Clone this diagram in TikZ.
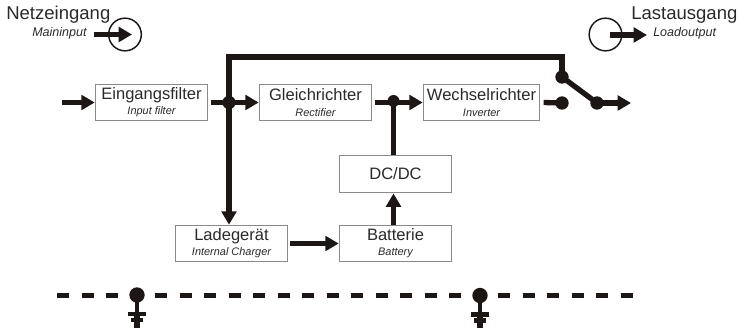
\documentclass[tikz,border=0pt]{standalone}
\usepackage{fontspec}
\setmainfont{Liberation Sans}
\usetikzlibrary{arrows.meta}
\definecolor{ink}{HTML}{1C1614}
\definecolor{txt}{HTML}{2A2A2A}
\definecolor{frame}{HTML}{8A8A8A}
\newcommand{\sub}[1]{\\[-1.6pt]{\fontsize{8.2pt}{9pt}\selectfont\itshape #1}}
\tikzset{
  x=0.75pt,y=-0.75pt,
  block/.style={draw=frame,line width=0.75pt,fill=white,minimum width=84.5pt,minimum height=27.5pt,inner sep=0pt,align=center,text=txt,font=\fontsize{12.4pt}{13pt}\selectfont},
  wire/.style={draw=ink,line width=4pt},
  flow/.style={wire,-{Triangle[length=10pt,width=11pt]}},
  dot/.style={circle,fill=ink,inner sep=0pt,minimum size=#1},
  dot/.default=10pt,
  ring/.style={circle,draw=ink,line width=1.1pt,minimum size=24.5pt,inner sep=0pt},
  head/.style={text=txt,inner sep=0pt,font=\fontsize{13.9pt}{15pt}\selectfont},
  tag/.style={text=txt,inner sep=0pt,font=\fontsize{9.4pt}{10pt}\selectfont\itshape},
  gbar/.style={fill=ink,inner sep=0pt},
}
\begin{document}
\begin{tikzpicture}
\useasboundingbox (0,0) rectangle (740,328);
% blocks
\node[block] (filter) at (151.5,102.5) {Eingangsfilter\sub{Input filter}};
\node[block] (rect) at (315.5,102.5) {Gleichrichter\sub{Rectifier}};
\node[block,minimum width=87.5pt] (inv) at (481.5,102.5) {Wechselrichter\sub{Inverter}};
\node[block] (dcdc) at (395.5,174) {DC/DC};
\node[block] (charger) at (231.5,243.5) {Ladegerät\sub{Internal Charger}};
\node[block] (batt) at (395.5,243.5) {Batterie\sub{Battery}};
% labels
\node[head,anchor=base west] (ntitle) at (6,20) {Netzeingang};
\node[tag,anchor=base west] (nsub) at (32,37) {Maininput};
\node[head,anchor=base west] (ltitle) at (631,20) {Lastausgang};
\node[tag,anchor=base west] (lsub) at (653,37) {Loadoutput};
% mains and load symbols
\node[ring] (inring) at (125,34.5) {};
\node[ring] (outring) at (605.5,34.5) {};
\coordinate (instart) at (94,34.5);
\coordinate (inend) at (132,34.5);
\coordinate (outstart) at (610,35);
\coordinate (outend) at (647,35);
\draw[flow] (instart) -- (inend);
\draw[flow] (outstart) -- (outend);
% junctions
\node[dot] (j1) at (229,102.5) {};
\node[dot=9pt] (j2) at (393.5,101) {};
\node[dot] (sw1) at (562,77) {};
\node[dot] (sw2) at (562,103) {};
\node[dot] (sw3) at (597,103) {};
\coordinate (busa) at (229,57);
\coordinate (busb) at (562,57);
\coordinate (mainin) at (62,102.5);
\coordinate (mainout) at (631,103);
% connectors
\draw[flow] (mainin) -- (filter.west);
\draw[flow] ([xshift=2pt]filter.east) -- (rect.west);
\draw[flow] ([xshift=2pt]rect.east) -- (inv.west);
\draw[wire] (j2.center) -- (dcdc.north -| j2);
\draw[wire,line cap=butt] ([xshift=2.5pt]inv.east) -- (sw2.center);
\draw[wire,line join=miter] (j1.center) -- (busa) -- (busb) -- (sw1.center);
\draw[flow] (j1.center) -- (charger.north -| j1);
\draw[flow] ([xshift=1.5pt]charger.east) -- (batt.west);
\draw[flow] (batt.north -| j2) -- ([yshift=-0.5pt]dcdc.south -| j2);
\draw[wire] (sw1.center) -- (sw3.center);
\draw[flow] (sw3.center) -- (mainout);
% earthed bus
\coordinate (ba) at (57,295.5);
\coordinate (bb) at (634,295.5);
\draw[draw=ink,line width=3.3pt,dash pattern=on 9.2pt off 9.18pt] (ba) -- (bb);
\node[dot=11.5pt] (g1) at (137,295) {};
\node[dot=11.5pt] (g2) at (480,295.5) {};
\node[gbar,minimum width=14pt,minimum height=3.6pt] (g1a) at (137,314) {};
\node[gbar,minimum width=9pt,minimum height=3.6pt] (g1b) at (137,320) {};
\node[gbar,minimum width=14pt,minimum height=3.6pt] (g2a) at (480,314.5) {};
\node[gbar,minimum width=9pt,minimum height=3.6pt] (g2b) at (480,320.5) {};
\coordinate (g1e) at (137,328);
\coordinate (g2e) at (480,328);
\draw[draw=ink,line width=3pt] (g1.center) -- (g1a.center);
\draw[draw=ink,line width=3pt] (g2.center) -- (g2a.center);
\draw[draw=ink,line width=4.4pt] (g1a.center) -- (g1e);
\draw[draw=ink,line width=4.4pt] (g2a.center) -- (g2e);
\end{tikzpicture}
\end{document}
